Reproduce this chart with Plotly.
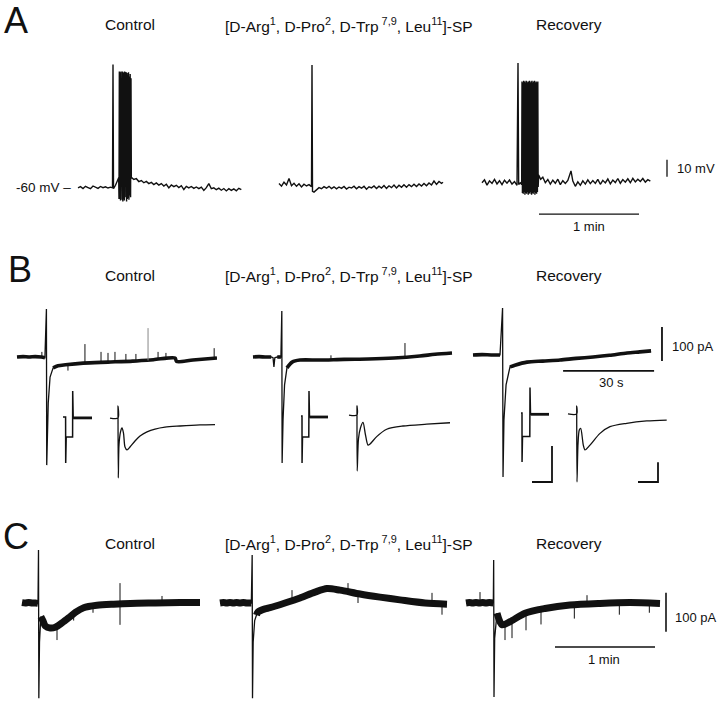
import plotly.graph_objects as go

W, H = 720, 703

# ======================= DATA =======================
# ---- Panel A : membrane potential (mV) vs time (s) ----
A_CTRL_T = [0, 1.5, 3, 4.5, 6, 7.5, 9, 10.5, 12, 13.5, 15, 16.5, 18, 19.5, 20.7, 21.0, 21.3, 22.5, 23.5, 24.4,
            24.6, 24.8, 25.05, 25.3, 25.5, 25.8, 26.0, 26.2, 26.45, 26.7, 26.9, 27.1, 27.35, 27.6, 27.8, 28.0,
            28.25, 28.5, 28.7, 28.9, 29.15, 29.4, 29.6, 29.8, 30.05, 30.3, 30.55, 30.8, 31.05, 31.3, 31.55, 31.8,
            32.0, 33.5, 35.0, 36.5, 38.0, 39.5, 41.0, 42.5, 44.0, 45.5, 47.0, 48.5, 50.0, 51.5, 53.0, 54.5, 56.0,
            57.5, 59.0, 60.5, 62.0, 63.5, 65.0, 66.5, 68.0, 69.5, 71.0, 72.5, 74.0, 75.5, 77.0, 78.5, 80.0, 81.5,
            83.0, 84.5, 86.0, 87.5, 89.0, 90.5, 92.0, 93.5, 95.0, 96.5, 98.0]
A_CTRL_V = [-60.5, -59.8, -60.9, -59.6, -60.3, -61.0, -59.4, -60.2, -60.8, -59.7, -60.4, -59.9, -60.6, -60.1, -60.5,
            12.0, -61.0, -59.0, -57.0, -54.5,
            -67, 8, -67, 7.5, -68, 8, -66.5, 7, -67.5, 8, -68.5, 7.5, -67, 7, -68, 8, -66, 6.5, -67.5, 7.5,
            -68.5, 7, -67, 6, -66.5, 7.5, -67.5, 5, -65, 6.5, -66, 4,
            -54.3, -55.6, -55.1, -56.8, -56.2, -57.5, -56.7, -58.0, -57.3, -58.6, -57.6, -58.9, -58.0, -59.4, -58.4,
            -60.5, -58.8, -59.8, -59.0, -60.3, -59.2, -61.5, -59.6, -60.5, -59.7, -60.8, -60.0, -61.0, -60.1, -62.0,
            -60.4, -58.0, -61.0, -60.5, -61.6, -60.7, -61.9, -60.9, -62.3, -61.0, -62.0, -61.1, -62.2, -60.8, -61.5]

A_ANT_T = [0, 1.5, 3, 4.5, 6, 7.5, 9, 10.5, 12, 13.5, 15, 16.5, 18, 19.5, 19.8, 20.1, 21.0,
           22.5, 24.0, 25.5, 27.0, 28.5, 30.0, 31.5, 33.0, 34.5, 36.0, 37.5, 39.0, 40.5, 42.0, 43.5, 45.0, 46.5,
           48.0, 49.5, 51.0, 52.5, 54.0, 55.5, 57.0, 58.5, 60.0, 61.5, 63.0, 64.5, 66.0, 67.5, 69.0, 70.5, 72.0,
           73.5, 75.0, 76.5, 78.0, 79.5, 81.0, 82.5, 84.0, 85.5, 87.0, 88.5, 90.0, 91.5, 93.0, 94.5, 96.0, 97.5, 98.4]
A_ANT_V = [-58.0, -59.5, -57.2, -58.8, -55.0, -59.2, -57.8, -59.6, -58.1, -60.0, -58.4, -59.4, -58.6, -59.8, 11.8,
           -62.5, -63.0,
           -61.6, -60.4, -61.0, -59.8, -60.7, -59.6, -60.9, -59.9, -61.1, -60.0, -60.8, -59.7, -61.2, -60.1, -60.6,
           -59.5, -61.0, -59.8, -60.7, -59.6, -61.3, -59.9, -60.5, -59.4, -60.9, -59.5, -60.6, -59.1, -60.8, -59.3,
           -60.4, -58.9, -60.6, -59.0, -60.2, -58.7, -60.1, -58.6, -59.8, -58.4, -59.7, -58.2, -59.4, -57.9, -59.3,
           -57.6, -58.8, -56.5, -58.5, -56.8, -57.9, -57.2]

A_REC_T = [0, 1.5, 3, 4.5, 6, 7.5, 9, 10.5, 12, 13.5, 15, 16.5, 18, 19.5, 21.0, 21.6, 22.0, 23.0, 23.8,
           24.0, 24.25, 24.5, 24.75, 25.0, 25.25, 25.5, 25.75, 26.0, 26.25, 26.5, 26.75, 27.0, 27.25, 27.5, 27.75,
           28.0, 28.25, 28.5, 28.75, 29.0, 29.25, 29.5, 29.75, 30.0, 30.25, 30.5, 30.75, 31.0, 31.25, 31.5, 31.75,
           32.0, 32.25, 32.5, 32.75, 33.0, 33.25, 33.5, 33.7,
           34.0, 35.2, 36.5, 38, 39.5, 41, 42.5, 44, 45.5, 47, 48.5, 50, 51.5, 53.4, 54.5, 56, 57.5, 59, 60.5, 62,
           63.5, 65, 66.5, 68, 69.5, 71, 72.5, 74, 75.5, 77, 78.5, 80, 81.5, 83, 84.5, 86, 87.5, 89, 90.5, 92,
           93.5, 95, 96.5, 98, 99.5, 101]
A_REC_V = [-57.5, -55.8, -58.9, -56.4, -57.9, -55.5, -58.2, -56.3, -58.6, -56.0, -57.7, -55.9, -58.3, -56.8, -59.0,
           12.9, -58.5, -57.5, -58.5,
           2, -63.5, 1.5, -64, 2.5, -63, 2, -64.5, 1.5, -63.5, 2.5, -64, 2, -63, 1.5, -64.5, 2, -63.5, 2.5, -64,
           1.5, -63, 2, -64.5, 2.5, -63.5, 1.5, -64, 2, -63, 2.5, -64.5, 1.5, -63.5, 2, -64, 1.5, -63, 2, -60,
           -53.0, -55.5, -54.2, -57.5, -55.6, -58.3, -56.0, -57.8, -55.4, -58.6, -56.3, -57.9, -56.1, -50.5, -56.5,
           -59.6, -57.0, -59.0, -56.4, -58.3, -55.8, -58.0, -56.2, -57.9, -55.5, -58.4, -56.1, -57.6, -55.3, -58.1,
           -55.9, -57.4, -55.0, -57.8, -55.6, -57.2, -55.2, -57.5, -54.9, -57.0, -55.4, -56.8, -55.0, -57.1, -55.7,
           -56.6]

# ---- Panel B : holding current (pA) vs time (s) ----
B_CTRL_T = [0, 2, 4, 6, 8, 9.2, 9.7, 9.8, 10.3, 10.9, 11.9, 13.5, 16, 21.8, 30, 38.2, 45, 52.1, 52.6, 58, 65.9]
B_CTRL_I = [0, 1, 0, 1, 0, -2, 141, -318, -135, -59, -32, -26, -23, -18, -15, -12, -8, -3, -13, -9, -3]
B_CTRL_SPK_T = [8.2, 16.8, 22.4, 27.7, 30.0, 32.3, 35.9, 39.2, 46.5, 49.1, 65.0]
B_CTRL_SPK_A = [0, -22, -18, -16, -15, -14, -13, -12, -8, -7, -3]
B_CTRL_SPK_B = [15, -40, 38, 15, 12, 15, 9, 9, 15, 12, 26]
B_CTRL_GREY_T = [43.2]
B_CTRL_GREY_A = [-10]
B_CTRL_GREY_B = [85]

B_ANT_T = [0, 2, 4, 6, 6.6, 6.9, 7.2, 8, 9.2, 9.5, 9.6, 9.9, 10.4, 11.2, 12.9, 15.5, 22, 30, 38, 46.5, 55, 60, 65.6]
B_ANT_I = [0, 1, 0, 0, -2, -29, -2, 0, 0, 135, -312, -185, -82, -32, -15, -9, -9, -7, -6, -3, 3, 8, 12]
B_ANT_SPK_T = [25.7, 50.1]
B_ANT_SPK_A = [-8, 0]
B_ANT_SPK_B = [5, 41]

B_REC_T = [0, 3, 6, 8.9, 9.75, 9.9, 10.2, 10.9, 12.2, 13.8, 17.8, 23, 28.7, 34, 39.6, 45, 50.8, 55, 58.7]
B_REC_I = [6, 7, 6, 6, 144, -353, -185, -82, -29, -24, -15, -12, -9, -4, 0, 5, 12, 15, 18]

# B insets : voltage-step test (ms, pA) and evoked current (ms, pA)
STEP_CTRL_T = [0, 2.6, 2.7, 3.2, 9.6, 9.7, 10.2, 29]
STEP_CTRL_I = [0, 0, -256, -111, -111, 144, -5, -5]
STEP_ANT_T = [0, 1, 1.05, 1.5, 7.8, 8.0, 8.5, 27]
STEP_ANT_I = [6, 6, -256, -111, -111, 144, 0, 0]
STEP_REC_T = [0, 1, 1.05, 1.5, 8.8, 9.0, 9.5, 28]
STEP_REC_I = [22, 22, -250, -109, -109, 164, 15, 15]

EVK_CTRL_T = [0, 8, 8, 8.3, 9, 10.5, 12, 13.5, 15, 17, 20, 25, 30, 37, 45, 55, 70, 90, 105]
EVK_CTRL_I = [-6, -6, 61, -339, -156, -83, -61, -89, -167, -183, -167, -133, -106, -83, -67, -56, -50, -44, -42]
EVK_ANT_T = [0, 8, 8, 8.2, 9.5, 11.5, 14, 16.5, 19, 21, 27.7, 37.7, 54, 77.7, 101]
EVK_ANT_I = [11, 11, 61, -300, -120, -60, -30, -100, -156, -150, -109, -68, -50, -40, -32]
EVK_REC_T = [0, 8.7, 8.7, 9.0, 10, 11.3, 12.7, 15.3, 17, 22, 32, 42, 58.7, 78.7, 98.7]
EVK_REC_I = [17, 17, 61, -361, -150, -72, -63, -156, -183, -156, -91, -54, -35, -22, -17]

# ---- Panel C : holding current (pA) vs time (s) ----
C_CTRL_T = [0, 2, 4, 6, 8, 9.6, 9.9, 10.1, 10.5, 11.3, 12.5, 14, 17, 20, 24, 28, 32, 37, 45, 55, 65, 80, 95, 106.8]
C_CTRL_I = [1, 0, 1, 0, 0, -1, 136, -244, -100, -35, -45, -59, -64, -62, -51, -38, -24, -12, -6, -3, -1, 0, 1, 1]
C_CTRL_SPK_T = [21, 58.8, 42.6, 84, 31]
C_CTRL_SPK_A = [-62, 51, -8, 0, -24]
C_CTRL_SPK_B = [-95, -56, -25, 18, -45]

C_ANT_T = [0, 2, 4, 6, 8, 10, 12, 14, 16, 18.8, 19.3, 19.5, 19.9, 20.8, 21.9, 22.8, 27, 30, 39, 48, 57, 64.2, 72,
           84, 96, 108, 123, 136.2]
C_ANT_I = [0, 1, 0, 1, 0, 1, 0, 1, 0, 0, 123, -244, -100, -45, -31, -23, -15, -12, 0, 13, 28, 37, 33, 23, 15, 8,
           0, -3]
C_ANT_SPK_T = [43.2, 76.8, 82.8, 127.2, 133.2]
C_ANT_SPK_A = [12, 25, 23, 0, -2]
C_ANT_SPK_B = [33, 51, 0, 26, -30]

C_REC_T = [0, 2, 4, 6, 8, 10, 12, 14, 16.4, 16.6, 16.8, 17.2, 18.6, 21.6, 26.4, 35.4, 47.4, 62.4, 80.4, 98.4, 116.4]
C_REC_I = [0, 1, 0, 1, 0, 1, 0, 1, 0, 110, -241, -90, -26, -56, -48, -26, -14, -5, -1, 1, -1]
C_REC_SPK_T = [8.4, 23.4, 27.6, 36, 45, 65, 92, 72.6, 110]
C_REC_SPK_A = [0, -50, -45, -25, -15, -5, 0, -3, 0]
C_REC_SPK_B = [28, -95, -90, -70, -55, -40, -30, 20, -25]

# scale bars (values in units)
BAR_A_TIME, BAR_A_MV = 60, 10
BAR_B_TIME, BAR_B_PA = 30, 100
BAR_C_TIME, BAR_C_PA = 60, 100
BAR_IN_MS, BAR_STEP_PA, BAR_EVK_PA = 20, 200, 110

TITLES = ["Control", "[D-Arg<sup>1</sup>, D-Pro<sup>2</sup>, D-Trp<sup> 7,9</sup>, Leu<sup>11</sup>]-SP", "Recovery"]

# ======================= LAYOUT / AXES =======================
FONT = "Liberation Sans, Arial, Helvetica, sans-serif"
INK = "#111111"

fig = go.Figure()
layout_axes = {}
nx = [0]
ny = [0]


def add_x(px0, sx):
    nx[0] += 1
    n = nx[0]
    key = "xaxis" if n == 1 else f"xaxis{n}"
    layout_axes[key] = dict(domain=[0, 1], range=[-px0 / sx, (W - px0) / sx], visible=False,
                            fixedrange=True, anchor="y", showgrid=False, zeroline=False)
    return "x" if n == 1 else f"x{n}"


def add_y(py0, v0, sy):
    ny[0] += 1
    n = ny[0]
    key = "yaxis" if n == 1 else f"yaxis{n}"
    layout_axes[key] = dict(domain=[0, 1], range=[v0 - (H - py0) / sy, v0 + py0 / sy],
                            visible=False, fixedrange=True, anchor="x", showgrid=False, zeroline=False)
    return "y" if n == 1 else f"y{n}"


# row A
yA = add_y(187, -60, 1.7)
sxA = 100 / 60
xA = [add_x(78, sxA), add_x(279, sxA), add_x(482, sxA)]
# row B
yB = add_y(357, 0, 0.34)
sxB = 91 / 30
xB = [add_x(17, sxB), add_x(253, sxB), add_x(473, sxB)]
# row C
yC = add_y(603, 0, 0.39)
sxC = 100 / 60
xC = [add_x(22, sxC), add_x(220, sxC), add_x(466, sxC)]
# insets
yI = add_y(417, 0, 0.18)
xStep = [add_x(63, 1), add_x(301, 1), add_x(521, 1)]
xEvk = [add_x(110, 1), add_x(349, 1), add_x(568, 1)]


def line(x, y, xa, ya, width=1.2, color=INK, shape="linear"):
    fig.add_trace(go.Scatter(x=x, y=y, mode="lines", xaxis=xa, yaxis=ya, hoverinfo="skip",
                             showlegend=False, line=dict(color=color, width=width, shape=shape,
                                                         smoothing=0.8 if shape == "spline" else None)))


def thick_part(t, v, windows):
    xs, ys = [], []
    for ti, vi in zip(t, v):
        if any(a < ti < b for a, b in windows):
            if xs and xs[-1] is not None:
                xs.append(None)
                ys.append(None)
        else:
            xs.append(ti)
            ys.append(vi)
    return xs, ys


def spikes(ts, a, b):
    xs, ys = [], []
    for ti, ai, bi in zip(ts, a, b):
        xs += [ti, ti, None]
        ys += [ai, bi, None]
    return xs, ys


def trace_with_noise(t, v, xa, ya, windows, wthick, wthin=1.3):
    line(t, v, xa, ya, width=wthin)
    xs, ys = thick_part(t, v, windows)
    line(xs, ys, xa, ya, width=wthick, shape="spline")


# ----- Panel A traces -----
line(A_CTRL_T, A_CTRL_V, xA[0], yA, width=1.4)
line(A_ANT_T, A_ANT_V, xA[1], yA, width=1.4)
line(A_REC_T, A_REC_V, xA[2], yA, width=1.4)

# ----- Panel B traces -----
trace_with_noise(B_CTRL_T, B_CTRL_I, xB[0], yB, [(9.2, 11.9)], 3.6)
trace_with_noise(B_ANT_T, B_ANT_I, xB[1], yB, [(6.5, 7.3), (9.2, 11.2)], 3.6)
trace_with_noise(B_REC_T, B_REC_I, xB[2], yB, [(8.9, 12.2)], 3.6)
sx_, sy_ = spikes(B_CTRL_SPK_T, B_CTRL_SPK_A, B_CTRL_SPK_B)
line(sx_, sy_, xB[0], yB, width=1)
sx_, sy_ = spikes(B_CTRL_GREY_T, B_CTRL_GREY_A, B_CTRL_GREY_B)
line(sx_, sy_, xB[0], yB, width=1, color="#888888")
sx_, sy_ = spikes(B_ANT_SPK_T, B_ANT_SPK_A, B_ANT_SPK_B)
line(sx_, sy_, xB[1], yB, width=1)

# insets
for k, (st, si, et, ei) in enumerate([(STEP_CTRL_T, STEP_CTRL_I, EVK_CTRL_T, EVK_CTRL_I),
                                      (STEP_ANT_T, STEP_ANT_I, EVK_ANT_T, EVK_ANT_I),
                                      (STEP_REC_T, STEP_REC_I, EVK_REC_T, EVK_REC_I)]):
    line(st, si, xStep[k], yI, width=1.5)
    line(st[-2:], si[-2:], xStep[k], yI, width=2.8)
    line(et, ei, xEvk[k], yI, width=1.3, shape="spline")

# ----- Panel C traces -----
trace_with_noise(C_CTRL_T, C_CTRL_I, xC[0], yC, [(9.6, 11.3)], 7)
trace_with_noise(C_ANT_T, C_ANT_I, xC[1], yC, [(18.8, 21.9)], 7)
trace_with_noise(C_REC_T, C_REC_I, xC[2], yC, [(16.4, 18.6)], 7)
for xa, (a1, a2, a3) in zip(xC, [(C_CTRL_SPK_T, C_CTRL_SPK_A, C_CTRL_SPK_B),
                                 (C_ANT_SPK_T, C_ANT_SPK_A, C_ANT_SPK_B),
                                 (C_REC_SPK_T, C_REC_SPK_A, C_REC_SPK_B)]):
    sx_, sy_ = spikes(a1, a2, a3)
    line(sx_, sy_, xa, yC, width=1)

# ----- scale bars -----
line([34.2, 34.2 + BAR_A_TIME], [-76, -76], xA[2], yA, width=1.3)
line([111, 111], [-54, -54 + BAR_A_MV], xA[2], yA, width=1.3)
line([29.7, 29.7 + BAR_B_TIME], [-41, -41], xB[2], yB, width=1.8)
line([62.3, 62.3], [-12, -12 + BAR_B_PA], xB[2], yB, width=1.8)
line([53.4, 53.4 + BAR_C_TIME], [-113, -113], xC[2], yC, width=1.6)
line([120, 120], [-74, -74 + BAR_C_PA], xC[2], yC, width=1.6)
line([31 - BAR_IN_MS, 31, 31], [-361, -361, -361 + BAR_STEP_PA], xStep[2], yI, width=1.8)
line([90 - BAR_IN_MS, 90, 90], [-361, -361, -361 + BAR_EVK_PA], xEvk[2], yI, width=1.8)

# ======================= TEXT =======================
ann = []


def txt(text, x, y, size, xanchor="center", xref="paper", yref="paper"):
    if xref == "paper":
        x = x / W
    if yref == "paper":
        y = 1 - y / H
    ann.append(dict(text=text, x=x, y=y, xref=xref, yref=yref, showarrow=False, xanchor=xanchor,
                    yanchor="middle", font=dict(family=FONT, size=size, color=INK)))


for letter, lx, ly in [("A", 2, 21), ("B", 6, 270), ("C", 1, 536)]:
    txt(letter, lx, ly, 36, xanchor="left")
for ty in [25, 275, 543]:
    txt(TITLES[0], 130, ty, 15.5)
    txt(TITLES[1], 349, ty, 15.5)
    txt(TITLES[2], 569, ty, 15.5)

txt("-60 mV \u2013", -3, -60, 13.5, xanchor="right", xref=xA[0], yref=yA)
txt("10 mV", 115.5, -49, 13, xanchor="left", xref=xA[2], yref=yA)
txt("1 min", 64.2, -83.5, 13, xref=xA[2], yref=yA)
txt("100 pA", 65, 32, 13, xanchor="left", xref=xB[2], yref=yB)
txt("30 s", 45.5, -76, 13, xref=xB[2], yref=yB)
txt("100 pA", 124, -36, 13, xanchor="left", xref=xC[2], yref=yC)
txt("1 min", 82.5, -144, 13, xref=xC[2], yref=yC)

fig.update_layout(width=W, height=H, autosize=False, margin=dict(l=0, r=0, t=0, b=0, pad=0),
                  paper_bgcolor="white", plot_bgcolor="rgba(0,0,0,0)", showlegend=False,
                  annotations=ann, **layout_axes)

# the page body has a default 8px margin; remove it so the 720x703 figure fills the window
fig.write_html("out.html", config={"displayModeBar": False, "displaylogo": False},
               post_script="document.body.style.margin='0';document.body.style.overflow='hidden';")
